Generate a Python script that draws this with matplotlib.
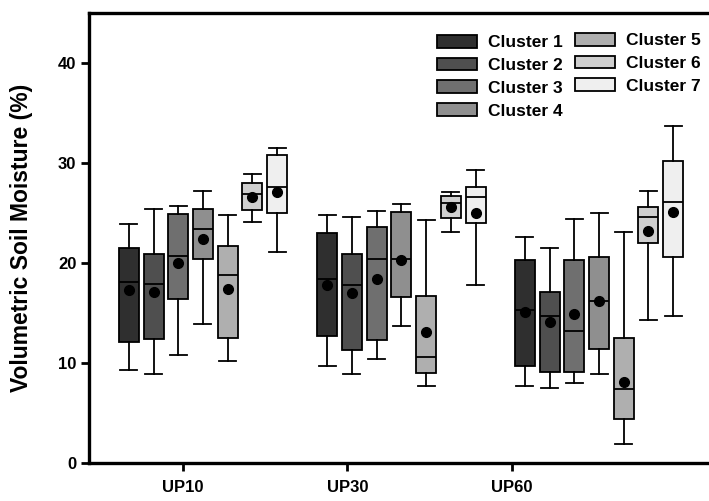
import numpy as np
import matplotlib
matplotlib.use("Agg")
import matplotlib.pyplot as plt
from matplotlib.patches import Patch

sites = ["UP10", "UP30", "UP60"]
clusters = ["Cluster 1", "Cluster 2", "Cluster 3", "Cluster 4", "Cluster 5", "Cluster 6", "Cluster 7"]
colors = ["#2f2f2f", "#4f4f4f", "#6f6f6f", "#8f8f8f", "#afafaf", "#cfcfcf", "#efefef"]

# rows = clusters, columns = sites (UP10, UP30, UP60)
whisker_lo = [[9.3, 9.7, 7.7], [8.9, 8.9, 7.5], [10.8, 10.4, 8.0], [13.9, 13.7, 8.9],
              [10.2, 7.7, 1.9], [24.1, 23.1, 14.3], [21.1, 17.8, 14.7]]
q1 = [[12.1, 12.7, 9.7], [12.4, 11.3, 9.1], [16.4, 12.3, 9.1], [20.4, 16.6, 11.4],
      [12.5, 9.0, 4.4], [25.3, 24.5, 22.0], [25.0, 24.0, 20.6]]
median = [[18.1, 18.4, 15.3], [17.9, 17.8, 14.7], [20.7, 20.4, 13.2], [23.4, 20.4, 16.2],
          [18.8, 10.6, 7.4], [26.9, 26.0, 24.6], [27.6, 26.6, 26.1]]
q3 = [[21.5, 23.0, 20.3], [20.9, 20.9, 17.1], [24.9, 23.6, 20.3], [25.4, 25.1, 20.6],
      [21.7, 16.7, 12.5], [28.0, 26.7, 25.6], [30.8, 27.6, 30.2]]
whisker_hi = [[23.9, 24.8, 22.6], [25.4, 24.6, 21.5], [25.7, 25.2, 24.4], [27.2, 25.9, 25.0],
              [24.8, 24.3, 23.1], [28.9, 27.1, 27.2], [31.5, 29.3, 33.7]]
mean = [[17.3, 17.8, 15.1], [17.1, 17.0, 14.1], [20.0, 18.4, 14.9], [22.4, 20.3, 16.2],
        [17.4, 13.1, 8.1], [26.6, 25.6, 23.2], [27.1, 25.0, 25.1]]

yticks = [0, 10, 20, 30, 40]

plt.rcParams['font.family'] = ['Liberation Sans', 'DejaVu Sans']
plt.rcParams['font.weight'] = 'bold'

W, H = 709, 501
fig = plt.figure(figsize=(W / 100, H / 100), dpi=100)
left_px, bottom_px, top_px = 89, 463, 13
ax = fig.add_axes([left_px / W, (H - bottom_px) / H, (W - left_px) / W, (bottom_px - top_px) / H])

# layout (tick positions at 0,1,2; box groups slightly offset as in reference)
tick_pos = np.arange(len(sites))
group_centers = np.array([0.1216, 1.3277, 2.529])
box_step = 0.1503
box_w = 0.1216

for k in range(len(clusters)):
    stats = []
    for j in range(len(sites)):
        stats.append(dict(whislo=whisker_lo[k][j], q1=q1[k][j], med=median[k][j],
                          q3=q3[k][j], whishi=whisker_hi[k][j], mean=mean[k][j], fliers=[]))
    pos = group_centers + (k - 3) * box_step
    ax.bxp(stats, positions=pos, widths=box_w, patch_artist=True, showmeans=True,
           showfliers=False, manage_ticks=False,
           boxprops=dict(facecolor=colors[k], edgecolor='black', linewidth=1.3),
           medianprops=dict(color='black', linewidth=1.3),
           whiskerprops=dict(color='black', linewidth=1.3),
           capprops=dict(color='black', linewidth=1.3),
           capwidths=box_w * 0.85,
           meanprops=dict(marker='o', markerfacecolor='black', markeredgecolor='black',
                          markersize=7))

ax.set_xlim(-0.5714, 3.1976)
ax.set_ylim(0, 45)
ax.set_xticks(tick_pos)
ax.set_xticklabels(sites, fontsize=12, fontweight='bold')
ax.set_yticks(yticks)
ax.set_yticklabels([str(v) for v in yticks], fontsize=12, fontweight='bold')
ax.tick_params(axis='both', direction='out', length=6, width=2)
ax.tick_params(axis='x', pad=6.5)
ax.tick_params(axis='y', pad=3)
for s in ['left', 'top', 'bottom']:
    ax.spines[s].set_linewidth(2.4)
ax.spines['right'].set_visible(False)

ax.set_ylabel("Volumetric Soil Moisture (%)", fontsize=16.5, fontweight='bold')
ax.yaxis.set_label_coords(-(89 - 33) / (W - left_px), 0.5)

handles = [Patch(facecolor=c, edgecolor='black', linewidth=1.3) for c in colors]
leg_kw = dict(loc='upper left', bbox_transform=fig.transFigure,
              frameon=False, fontsize=12.5, handlelength=2.3, handleheight=0.75,
              handletextpad=0.62, labelspacing=0.42, borderpad=0, borderaxespad=0)
leg1 = ax.legend(handles[:4], clusters[:4], bbox_to_anchor=(437 / W, 1 - 35 / H), **leg_kw)
ax.add_artist(leg1)
leg2 = ax.legend(handles[4:], clusters[4:], bbox_to_anchor=(575 / W, 1 - 33 / H), **leg_kw)
for lg in (leg1, leg2):
    for t in lg.get_texts():
        t.set_fontweight('bold')

fig.savefig("out.png", dpi=100)
